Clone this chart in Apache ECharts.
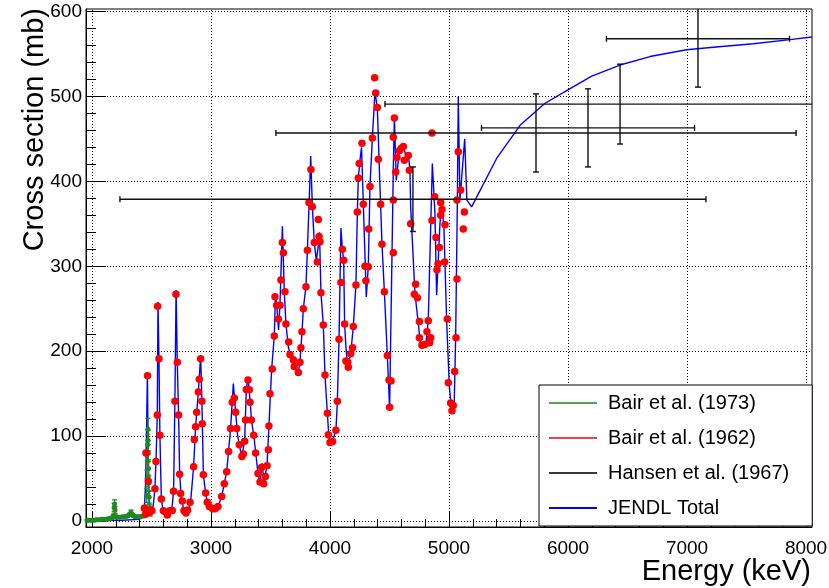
<!DOCTYPE html>
<html><head><meta charset="utf-8">
<script src="https://cdn.jsdelivr.net/npm/echarts@6/dist/echarts.min.js"></script>
<style>html,body{margin:0;padding:0;background:#fff}#c{width:829px;height:588px}</style>
</head><body><div id="c"></div>
<script>
const FONT = '"Liberation Sans", Arial, Helvetica, sans-serif';

// ---- axis ticks / labels ----
const xMajorTicks = [2000, 3000, 4000, 5000, 6000, 7000, 8000];
const yMajorTicks = [0, 100, 200, 300, 400, 500, 600];
const xRange = [1950, 8050];
const yRange = [-7, 603];

// ---- Bair et al. (1973): [E keV, sigma mb, err] ----
const bair1973 = [
  [1960,1,1],[1975,1,1],[1990,1,1],[2005,1,1],[2020,1,1],[2035,1.5,1],[2050,1.5,1],[2065,1.5,1],
  [2080,2,1],[2095,2,1],[2110,2,1],[2125,2.5,1],[2140,2.5,1],[2150,3,1],[2160,3.5,1],[2170,4,1],
  [2180,6,2],[2186,16,5],[2190,20,5],[2194,13,4],[2200,5,2],[2210,4.5,1],[2225,4.5,1],[2240,4.5,1],
  [2255,5,1],[2270,5,1],[2285,5.5,1],[2300,6,1],[2310,7,1],[2320,8,2],[2328,10,3],[2335,8,2],
  [2342,7,1],[2350,6,1],[2365,5,1],[2380,5,1],[2395,5,1],[2410,5.5,1],[2425,6,1],[2438,6,1],
  [2448,8,2],[2455,15,4],[2460,30,8],[2463,50,10],[2466,70,10],[2468,90,12],[2470,108,13],
  [2472,95,12],[2474,80,10],[2476,62,10],[2478,45,9],[2481,28,7],[2485,15,4],[2490,9,3]
];

// ---- Bair et al. (1962): [E keV, sigma mb] ----
const bair1962 = [
  [2440,15],[2451,8],[2454,80],[2467,171],[2474,47],[2479,10],[2496,13],[2504,12],[2529,38],[2538,70],
  [2549,125],[2552,253],[2563,191],[2571,101],[2583,26],[2600,12],[2616,11],[2633,7],[2655,12],[2675,12.5],
  [2686,35],[2697,141],[2706,267],[2717,187],[2728,125],[2737,55],[2745,32.5],[2759,23.5],[2773,12],[2790,9.4],
  [2804,13],[2824,22],[2854,64],[2860,96],[2871,111],[2880,128],[2894,152],[2902,167],[2913,191],[2924,141],
  [2927,114.5],[2936,54.5],[2955,33],[2969,22],[2986,17],[3014,14.5],[3034,14.5],[3059,17],[3090,29],[3112,44],
  [3132,58],[3148,82],[3165,109],[3179,140],[3196,145],[3207,128],[3216,109],[3238,90],[3260,76],[3272,79],
  [3283,94],[3291,119],[3297,155],[3311,166],[3322,154.5],[3328,140],[3339,119],[3359,101],[3375,80],[3395,56],
  [3412,46],[3426,63.5],[3443,44],[3457,52.5],[3471,65],[3482,84],[3487,112],[3496,150],[3515,179],[3532,218],
  [3538,264],[3552,254],[3566,238],[3580,254],[3588,284],[3600,328],[3608,316],[3622,270],[3630,232],[3653,211],
  [3664,196],[3692,190],[3700,182],[3734,175],[3748,187],[3756,204],[3765,223],[3776,250],[3798,276],[3810,319],
  [3823,375],[3840,414],[3852,370],[3868,328],[3894,305],[3902,355],[3908,335],[3916,329],[3924,269],[3944,231],
  [3958,172],[3978,127],[3986,101.5],[4000,92.5],[4022,93.6],[4050,107],[4062,141],[4076,214],[4092,281],[4104,320],
  [4115,307],[4123,232],[4134,188.5],[4149,187],[4154,181],[4174,197],[4190,204],[4196,229],[4218,278],[4230,364],
  [4238,404],[4246,421],[4269,445],[4280,373],[4294,300],[4302,283],[4322,299.5],[4325,344],[4336,394],[4356,451],
  [4375,522],[4384,504],[4398,487],[4406,426],[4426,373],[4437,326],[4457,270],[4482,195],[4496,166],[4501,134],
  [4513,165],[4532,316],[4532,378],[4532,452],[4541,474.5],[4552,411],[4563,428],[4583,436],[4599,439],[4616,441],
  [4625,425],[4658,430.5],[4667,413],[4678,350],[4709,267],[4720,279],[4734,263],[4751,235],[4751,216],[4773,207],
  [4796,208],[4815,223],[4826,236],[4837,210],[4846,216],[4857,457],[4857,354],[4880,382],[4891,334],[4899,296],
  [4908,303],[4919,322],[4930,375],[4930,360],[4941,367],[4964,305],[4966,349],[4986,238],[4994,163],[5014,139],
  [5025,130],[5036,136],[5048,176],[5059,216],[5067,285],[5067,378],[5078,435],[5098,390],[5120,344],[5129,364]
];

// ---- Hansen et al. (1967): [E, sigma, dE, dSigma] ----
const hansen1967 = [
  [4697, 379, 2462, 38],
  [5731, 457, 2185, 46],
  [6168, 463, 895, 46],
  [6437, 491, 1975, 47],
  [7092, 568, 769, 57]
];

// ---- JENDL total: [E keV, sigma mb] ----
const jendlTotal = [
  [1950,0.5],[2100,0.5],[2250,1],[2400,2],[2430,6],[2440,15],[2450,40],[2458,100],[2466,174],[2472,80],
  [2478,30],[2488,12],[2500,10],[2515,18],[2529,38],[2538,70],[2549,125],[2555,258],[2563,191],[2571,101],
  [2583,26],[2600,10],[2620,4],[2645,7],[2670,12],[2686,35],[2697,141],[2707,272],[2717,187],[2728,125],
  [2737,55],[2750,28],[2773,12],[2790,7],[2810,12],[2830,24],[2854,64],[2871,111],[2894,152],[2913,194],
  [2924,141],[2936,55],[2955,33],[2975,18],[2995,14],[3030,14],[3060,17],[3090,29],[3132,58],[3165,109],
  [3188,162],[3207,128],[3225,100],[3258,76],[3283,94],[3297,155],[3311,169],[3322,170],[3330,140],[3340,119],
  [3360,101],[3395,56],[3412,44],[3430,68],[3445,46],[3471,65],[3487,112],[3510,179],[3532,218],[3542,266],
  [3555,250],[3568,225],[3580,255],[3600,347],[3616,270],[3630,232],[3650,205],[3668,195],[3700,182],[3734,175],
  [3748,187],[3765,223],[3776,250],[3798,276],[3810,319],[3825,375],[3838,430],[3852,370],[3868,328],[3885,307],
  [3900,322],[3912,340],[3924,269],[3944,231],[3958,172],[3978,127],[3994,92],[4014,91],[4050,107],[4062,141],
  [4076,214],[4092,345],[4104,320],[4115,307],[4123,232],[4134,205],[4148,182],[4174,197],[4196,229],[4218,278],
  [4230,364],[4238,404],[4252,425],[4265,440],[4280,374],[4305,264],[4322,300],[4336,394],[4356,451],[4378,505],
  [4398,487],[4406,452],[4420,394],[4437,326],[4457,270],[4482,195],[4501,133],[4532,413],[4541,476],[4557,401],
  [4583,437],[4616,442],[4639,429],[4658,433],[4672,413],[4678,370],[4714,268],[4742,233],[4762,205],[4807,210],
  [4826,237],[4860,421],[4882,362],[4896,266],[4924,350],[4938,376],[4958,343],[4980,237],[5003,158],[5022,131],
  [5042,127],[5056,217],[5070,374],[5078,500],[5092,378],[5132,450],[5150,378],[5190,370],[5400,427],[5597,466],
  [5807,492],[6003,508],[6199,524],[6437,537],[6689,547],[6997,555],[7221,558],[7557,562],[7865,567],[8050,570]
];

// minor tick positions
const xMinorTicks = [];
for (let v = 2000; v <= 8000; v += 200) if (v % 1000 !== 0) xMinorTicks.push(v);
const yMinorTicks = [];
for (let v = 0; v <= 600; v += 20) if (v % 100 !== 0) yMinorTicks.push(v);

function clampPt(p, cs) {
  return [Math.min(Math.max(p[0], cs.x), cs.x + cs.width), Math.min(Math.max(p[1], cs.y), cs.y + cs.height)];
}
function inside(p, cs) {
  return p[0] >= cs.x - 0.5 && p[0] <= cs.x + cs.width + 0.5 && p[1] >= cs.y - 0.5 && p[1] <= cs.y + cs.height + 0.5;
}

function hansenRender(params, api) {
  const cs = params.coordSys;
  const x = api.value(0), y = api.value(1), ex = api.value(2), ey = api.value(3);
  const lRaw = api.coord([x - ex, y]), rRaw = api.coord([x + ex, y]);
  const bRaw = api.coord([x, y - ey]), tRaw = api.coord([x, y + ey]);
  const l = clampPt(lRaw, cs), r = clampPt(rRaw, cs), b = clampPt(bRaw, cs), t = clampPt(tRaw, cs);
  const st = { stroke: '#111', lineWidth: 1.4 };
  const c = 3;
  const ch = [
    { type: 'line', shape: { x1: l[0], y1: l[1], x2: r[0], y2: r[1] }, style: st },
    { type: 'line', shape: { x1: b[0], y1: b[1], x2: t[0], y2: t[1] }, style: st }
  ];
  if (inside(lRaw, cs)) ch.push({ type: 'line', shape: { x1: l[0], y1: l[1] - c, x2: l[0], y2: l[1] + c }, style: st });
  if (inside(rRaw, cs)) ch.push({ type: 'line', shape: { x1: r[0], y1: r[1] - c, x2: r[0], y2: r[1] + c }, style: st });
  if (inside(bRaw, cs)) ch.push({ type: 'line', shape: { x1: b[0] - c, y1: b[1], x2: b[0] + c, y2: b[1] }, style: st });
  if (inside(tRaw, cs)) ch.push({ type: 'line', shape: { x1: t[0] - c, y1: t[1], x2: t[0] + c, y2: t[1] }, style: st });
  return { type: 'group', children: ch };
}

function greenErrRender(params, api) {
  const cs = params.coordSys;
  const x = api.value(0), y = api.value(1), e = api.value(2);
  const b = clampPt(api.coord([x, y - e]), cs), t = clampPt(api.coord([x, y + e]), cs);
  const st = { stroke: '#1f8a1f', lineWidth: 1.3 };
  const c = 2.5;
  return { type: 'group', children: [
    { type: 'line', shape: { x1: b[0], y1: b[1], x2: t[0], y2: t[1] }, style: st },
    { type: 'line', shape: { x1: t[0] - c, y1: t[1], x2: t[0] + c, y2: t[1] }, style: st },
    { type: 'line', shape: { x1: b[0] - c, y1: b[1], x2: b[0] + c, y2: b[1] }, style: st }
  ] };
}

const plainNum = v => String(Math.round(v));

const chart = echarts.init(document.getElementById('c'), null, { renderer: 'canvas' });
const axisBase = { type: 'value', min: xRange[0], max: xRange[1], position: 'bottom', gridIndex: 0 };
const yBase = { type: 'value', min: yRange[0], max: yRange[1], position: 'left', gridIndex: 0 };

chart.setOption({
  animation: false,
  backgroundColor: '#fff',
  grid: { left: 86, right: 17, top: 9, bottom: 61, show: true, borderColor: '#000', borderWidth: 1,
          backgroundColor: 'transparent', outerBoundsMode: 'none', containLabel: false },
  xAxis: [
    Object.assign({}, axisBase, {
      axisLine: { show: true, onZero: false, lineStyle: { color: '#000', width: 1 } },
      axisTick: { show: true, inside: true, length: 16, customValues: xMajorTicks, lineStyle: { color: '#000', width: 1 } },
      axisLabel: { show: true, customValues: xMajorTicks, formatter: plainNum, margin: 12, color: '#000', fontSize: 19, fontFamily: FONT },
      splitLine: { show: false }
    }),
    Object.assign({}, axisBase, {
      axisLine: { show: false, onZero: false },
      axisTick: { show: true, inside: true, length: 8, customValues: xMinorTicks, lineStyle: { color: '#000', width: 1 } },
      axisLabel: { show: false },
      splitLine: { show: false }
    })
  ],
  yAxis: [
    Object.assign({}, yBase, {
      axisLine: { show: true, onZero: false, lineStyle: { color: '#000', width: 1 } },
      axisTick: { show: true, inside: true, length: 20, customValues: yMajorTicks, lineStyle: { color: '#000', width: 1 } },
      axisLabel: { show: true, customValues: yMajorTicks, formatter: plainNum, margin: 4, color: '#000', fontSize: 19, fontFamily: FONT },
      splitLine: { show: false }
    }),
    Object.assign({}, yBase, {
      axisLine: { show: false, onZero: false },
      axisTick: { show: true, inside: true, length: 10, customValues: yMinorTicks, lineStyle: { color: '#000', width: 1 } },
      axisLabel: { show: false },
      splitLine: { show: false }
    })
  ],
  legend: {
    data: [
      { name: 'Bair et al. (1973)', itemStyle: { color: '#52a352' } },
      { name: 'Bair et al. (1962)', itemStyle: { color: '#e2474d' } },
      { name: 'Hansen et al. (1967)', itemStyle: { color: '#3a3a3a' } },
      { name: 'JENDL Total', itemStyle: { color: '#0000ff' } }
    ],
    orient: 'vertical', left: 539, top: 385, padding: [8, 23, 8, 10], itemGap: 15,
    itemWidth: 48, itemHeight: 2, icon: 'rect', selectedMode: false,
    backgroundColor: '#fff', borderColor: '#000', borderWidth: 1, borderRadius: 0,
    textStyle: { fontFamily: FONT, fontSize: 20, color: '#000', padding: [0, 0, 0, 6] },
    z: 20
  },
  graphic: [
    { type: 'text', x: 811, y: 572, z: 30,
      style: { text: 'Energy (keV)', font: '29px ' + FONT, fill: '#000', align: 'right', verticalAlign: 'middle' } },
    { type: 'text', x: 35, y: 8, rotation: Math.PI / 2, z: 30,
      style: { text: 'Cross section (mb)', font: '29px ' + FONT, fill: '#000', align: 'right', verticalAlign: 'middle' } }
  ],
  series: [
    { type: 'line', name: 'gridlines', data: [], silent: true, z: 1, xAxisIndex: 0, yAxisIndex: 0,
      markLine: { silent: true, symbol: ['none', 'none'], label: { show: false }, animation: false,
        lineStyle: { color: '#000', width: 1, type: [1, 2] },
        emphasis: { disabled: true },
        data: xMajorTicks.map(v => ({ xAxis: v })).concat(yMajorTicks.map(v => ({ yAxis: v }))) } },
    { type: 'line', name: 'JENDL Total', data: jendlTotal, showSymbol: false, symbol: 'none', z: 3,
      lineStyle: { color: '#0000ff', width: 1.4 }, itemStyle: { color: '#0000ff' }, clip: true },
    { type: 'custom', name: 'Bair et al. (1973)', data: bair1973, renderItem: greenErrRender, z: 4,
      itemStyle: { color: '#1f8a1f' }, encode: { x: 0, y: 1 } },
    { type: 'scatter', name: 'Bair et al. (1973)', data: bair1973.map(d => [d[0], d[1]]), symbol: 'circle', symbolSize: 5, z: 5,
      itemStyle: { color: '#1f8a1f', opacity: 1 }, clip: true },
    { type: 'scatter', name: 'Bair et al. (1962)', data: bair1962, symbol: 'circle', symbolSize: 7.5, z: 6,
      itemStyle: { color: '#ff0000', opacity: 1 }, clip: true },
    { type: 'custom', name: 'Hansen et al. (1967)', data: hansen1967, renderItem: hansenRender, z: 7,
      itemStyle: { color: '#111' }, encode: { x: 0, y: 1 } }
  ]
});
</script>
</body></html>
